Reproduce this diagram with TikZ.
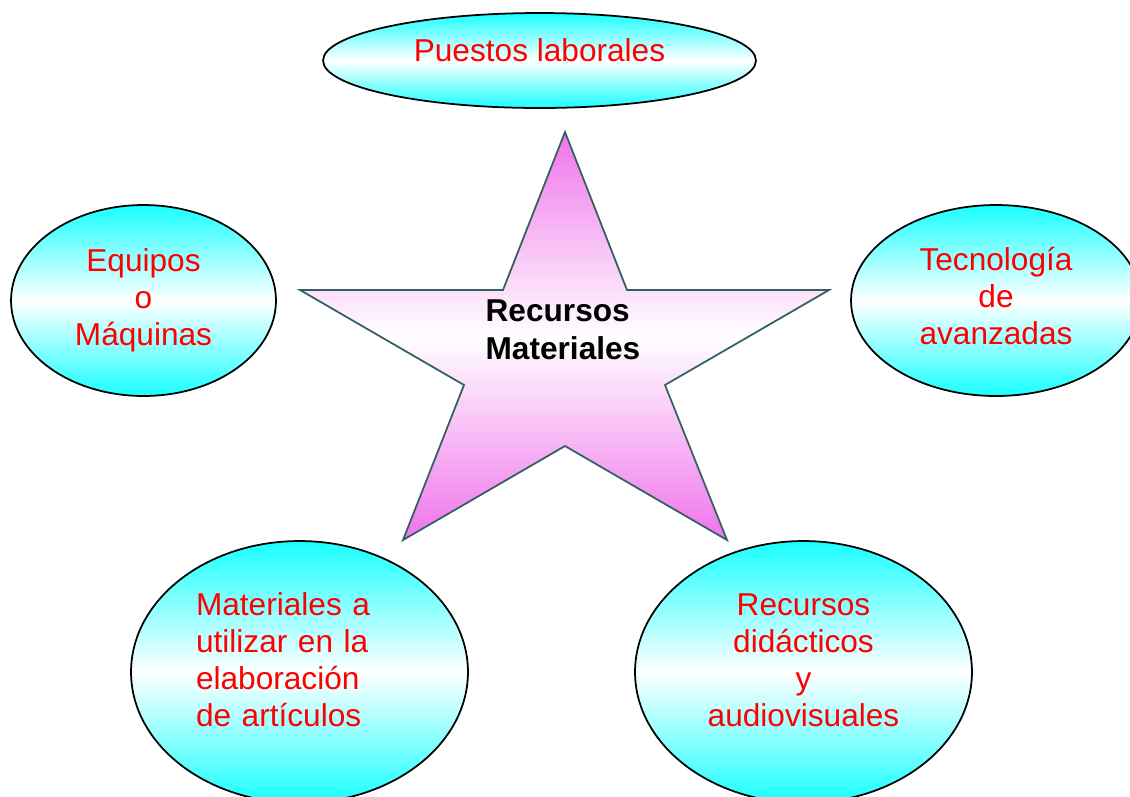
\documentclass[tikz,border=0pt]{standalone}
\usepackage{fontspec}
\setmainfont{Liberation Sans}
\usetikzlibrary{shapes}
\definecolor{aqua}{RGB}{25,255,255}
\definecolor{orchid}{RGB}{240,115,235}
\definecolor{slate}{RGB}{50,95,95}
\tikzstyle{oval}=[ellipse, draw=black, line width=1pt, inner sep=0, top color=aqua, bottom color=aqua, middle color=white, text=red, align=center, font=\fontsize{18}{21}\selectfont]
\newcommand{\drawoval}{\node[oval]}

\begin{document}
\begin{tikzpicture}[x=0.02cm,y=-0.02cm]
	\useasboundingbox (0,0) rectangle (1130,796);
	
	% estrella central
	\draw[slate, line width=1pt, top color=orchid, bottom color=orchid, middle color=white]
		(565,132) -- (627,290) -- (829,290) -- (665,385) -- (727,540) -- (565,446)
		-- (403,540) -- (464,385) -- (300,290) -- (503,290) -- cycle;
	\node[align=left, font=\bfseries\fontsize{18}{21.5}\selectfont] (rm) at (563,330) {Recursos\\Materiales};
	
	\drawoval[minimum width=8.66cm, minimum height=1.9cm, text depth=0.4cm] (pl) at (539.5,60.5) {Puestos laborales};
	\drawoval[minimum width=5.3cm, minimum height=3.82cm] (eq) at (143.5,300.5) {Equipos\\o\\Máquinas};
	\drawoval[minimum width=5.8cm, minimum height=3.82cm, text depth=0.18cm] (tec) at (996,300.5) {Tecnología\\de\\avanzadas};
	\drawoval[minimum width=6.74cm, minimum height=5.24cm, text width=4.14cm, align=left, text depth=2.7cm] (mat) at (299.5,672) {Materiales a\\utilizar en la\\elaboración\\de artículos};
	\drawoval[minimum width=6.74cm, minimum height=5.24cm, text depth=0.48cm] (rd) at (803.5,672) {Recursos\\didácticos\\y\\audiovisuales};
	
\end{tikzpicture}
\end{document}
